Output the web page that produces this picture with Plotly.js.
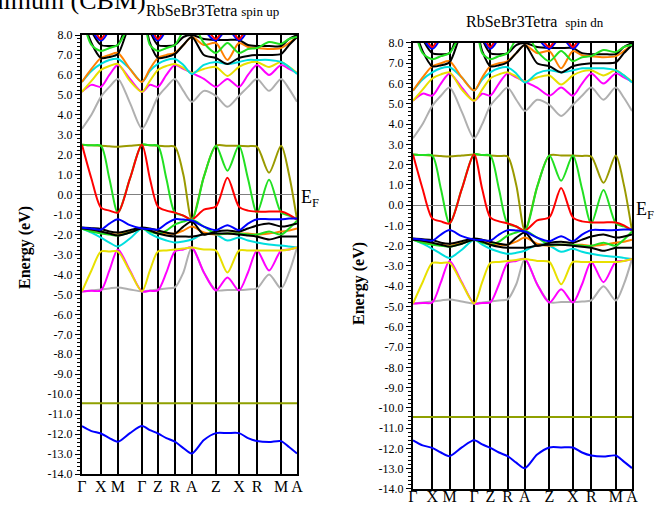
<!DOCTYPE html>
<html>
<head>
<meta charset="utf-8">
<script src="https://cdn.plot.ly/plotly-3.0.1.min.js"></script>
<style>html,body{margin:0;padding:0;background:#fff;}#chart{width:659px;height:508px;}</style>
</head>
<body>
<div id="chart"></div>
<script>
// k-path sample positions (high-symmetry points and segment midpoints)
const kpts = [0, 0.044, 0.088, 0.1275, 0.167, 0.223, 0.279, 0.316, 0.353, 0.3925, 0.432, 0.4715, 0.511, 0.567, 0.623, 0.6765, 0.730, 0.772, 0.814, 0.870, 0.926, 0.963, 1.0];
const kHS = [0, 0.088, 0.167, 0.279, 0.353, 0.432, 0.511, 0.623, 0.730, 0.814, 0.926, 1.0];
const kLabels = ['Γ','X','M','Γ','Z','R','A','Z','X','R','M','A'];
const yTicks = [8,7,6,5,4,3,2,1,0,-1,-2,-3,-4,-5,-6,-7,-8,-9,-10,-11,-12,-13,-14];

// conduction bands
const cRed    = [10, 8.6, 7.8, 8.6, 10, 10, 10, 8.6, 7.8, 8.6, 10, 10, 10, 8.6, 7.8, 8.6, 7.8, 8.6, 10, 10, 10, 10, 10];
const cBlue   = [10, 8.3, 7.72, 8.3, 10, 10, 10, 8.3, 7.72, 8.3, 10, 10, 10, 8.3, 7.72, 8.3, 7.72, 8.3, 10, 10, 10, 10, 10];
const cBlack2 = [9.5, 8.2, 7.5, 7.45, 7.5, 9, 9.5, 8.2, 7.5, 7.45, 7.5, 7.9, 8.0, 7.8, 7.75, 7.75, 7.75, 7.5, 7.45, 7.45, 7.45, 7.8, 8.0];
const cGreen  = [9, 7.5, 7.2, 7.35, 7.5, 8.5, 9, 7.5, 7.2, 7.35, 7.5, 8.2, 8.6, 7.6, 7.1, 7.6, 7.1, 7.3, 7.35, 7.65, 7.55, 7.8, 7.9];
const cBlack1 = [9, 7.6, 6.85, 6.9, 7.05, 8.5, 9, 7.6, 6.85, 6.9, 7.05, 7.5, 7.9, 7.0, 6.85, 6.55, 6.85, 6.95, 7.0, 7.0, 7.05, 7.5, 7.9];
const cOrange = [5.65, 6.3, 6.85, 7.0, 7.1, 6.3, 5.65, 6.3, 6.85, 7.0, 7.1, 7.5, 7.9, 7.5, 7.6, 6.75, 7.6, 7.4, 7.35, 7.3, 7.35, 7.6, 7.9];
const cCyan   = [5.65, 6.2, 6.55, 6.75, 6.8, 6.3, 5.65, 6.2, 6.55, 6.75, 6.8, 6.5, 6.05, 6.5, 6.65, 6.55, 6.65, 6.75, 6.75, 6.75, 6.65, 6.4, 6.05];
const cYellow = [5.15, 5.7, 6.25, 6.45, 6.55, 5.7, 5.15, 5.7, 6.25, 6.45, 6.55, 6.35, 6.1, 6.3, 6.4, 5.95, 6.4, 6.6, 6.65, 6.4, 6.65, 6.4, 6.1];
const cMagenta= [5.15, 5.5, 5.4, 6.0, 6.5, 5.8, 5.15, 5.5, 5.4, 6.0, 6.5, 6.3, 6.1, 5.8, 5.4, 5.8, 5.4, 6.0, 6.5, 6.0, 6.5, 6.3, 6.1];
const cGray   = [3.3, 4.0, 4.9, 5.4, 5.8, 4.6, 3.3, 4.0, 4.9, 5.4, 5.8, 5.2, 4.65, 5.2, 4.95, 4.4, 4.95, 5.4, 5.8, 5.2, 5.8, 5.3, 4.65];
// upper valence bands
const vOlive  = [2.5, 2.47, 2.45, 2.42, 2.4, 2.45, 2.5, 2.47, 2.45, 2.42, 2.4, 1.0, -1.25, 0.9, 2.45, 2.45, 2.45, 2.43, 2.4, 1.1, 2.45, 1.0, -1.25];
const vGreen  = [2.5, 2.47, 2.45, 0.8, -0.9, 0.8, 2.5, 2.47, 2.45, 0.8, -0.9, -1.05, -1.25, 0.9, 2.45, 1.2, 2.45, 0.8, -0.9, 0.75, -0.9, -1.05, -1.25];
const vRed    = [2.5, 0.8, -0.65, -0.8, -0.9, 0.8, 2.5, 0.8, -0.6, -0.8, -0.9, -1.05, -1.25, -0.75, -0.6, 0.85, -0.6, -0.8, -0.85, -0.85, -0.85, -1.0, -1.25];
// middle valence group
const vBlue   = [-1.66, -1.7, -1.75, -1.45, -1.23, -1.53, -1.7, -1.72, -1.75, -1.45, -1.23, -1.25, -1.3, -1.6, -1.78, -1.53, -1.78, -1.45, -1.23, -1.23, -1.23, -1.2, -1.2];
const vBlack1 = [-1.65, -1.68, -1.72, -1.85, -1.9, -1.78, -1.65, -1.7, -1.8, -1.9, -1.95, -1.6, -1.35, -2.0, -1.85, -1.8, -1.85, -1.7, -1.55, -1.45, -1.6, -1.55, -1.45];
const vBlack2 = [-1.7, -1.75, -1.85, -1.95, -2.05, -1.9, -1.7, -1.8, -1.95, -2.05, -2.1, -2.1, -2.1, -2.0, -1.95, -1.95, -2.0, -2.05, -2.1, -2.25, -2.1, -2.1, -2.1];
const vOrange = [-1.7, -1.8, -1.9, -1.95, -2.0, -1.85, -1.7, -1.8, -1.9, -1.95, -1.95, -1.8, -1.6, -1.9, -2.0, -1.95, -1.95, -1.95, -2.0, -1.95, -1.85, -1.8, -1.7];
const vGreen2 = [-1.7, -1.85, -1.95, -2.0, -2.05, -1.9, -1.7, -1.85, -1.95, -1.8, -1.5, -1.35, -1.25, -1.6, -1.95, -1.95, -1.95, -2.0, -2.0, -1.85, -2.0, -1.7, -1.3];
const vCyan   = [-1.7, -1.9, -2.15, -2.4, -2.6, -2.2, -1.7, -1.95, -2.15, -2.3, -2.4, -2.35, -2.25, -1.95, -2.0, -2.3, -2.15, -2.3, -2.4, -2.5, -2.55, -2.6, -2.65];
// lower valence group
const vYellow = [-4.85, -3.8, -2.85, -2.85, -2.85, -3.85, -4.85, -3.8, -2.85, -2.8, -2.75, -2.7, -2.65, -2.75, -2.8, -3.9, -2.8, -2.8, -2.8, -2.8, -2.8, -2.75, -2.65];
const vMagenta= [-4.85, -4.82, -4.8, -3.8, -2.75, -3.8, -4.85, -4.82, -4.8, -3.9, -2.85, -2.75, -2.65, -3.9, -4.8, -4.15, -4.8, -3.9, -2.8, -3.8, -2.8, -2.75, -2.65];
const vGray   = [-4.85, -4.8, -4.75, -4.7, -4.65, -4.75, -4.85, -4.8, -4.75, -4.7, -4.65, -3.9, -2.65, -3.9, -4.78, -4.78, -4.78, -4.75, -4.7, -4.0, -4.7, -3.9, -2.65];
// deep bands
const dOlive  = [-10.45, -10.45, -10.45, -10.45, -10.45, -10.45, -10.45, -10.45, -10.45, -10.45, -10.45, -10.45, -10.45, -10.45, -10.45, -10.45, -10.45, -10.45, -10.45, -10.45, -10.45, -10.45, -10.45];
const dBlue   = [-11.6, -11.85, -11.97, -12.2, -12.38, -11.95, -11.6, -11.8, -11.97, -12.2, -12.38, -12.7, -12.97, -12.3, -11.95, -11.95, -11.95, -12.2, -12.35, -12.4, -12.35, -12.65, -12.97];

const bands = [
  [cGray,'#b0b0b0'],[cMagenta,'#ff00ff'],[cYellow,'#e8e000'],[cCyan,'#00dede'],[cOrange,'#ff8000'],
  [cBlack1,'#000000'],[cBlack2,'#000000'],[cGreen,'#22e022'],[cBlue,'#0000ff'],[cRed,'#ff0000'],
  [vOlive,'#9a9a00'],[vGreen,'#22e022'],[vRed,'#ff0000'],
  [vCyan,'#00dede'],[vOrange,'#ff8000'],[vGreen2,'#22e022'],[vBlack2,'#000000'],[vBlack1,'#000000'],[vBlue,'#0000ff'],
  [vGray,'#b0b0b0'],[vMagenta,'#ff00ff'],[vYellow,'#e8e000'],
  [dOlive,'#8fa000'],[dBlue,'#0000ff']
];

const traces = [];
['x','x2'].forEach((xa,i)=>{
  const ya = i===0 ? 'y' : 'y2';
  bands.forEach(([vals,col])=>{
    traces.push({x:kpts, y:vals, xaxis:xa, yaxis:ya, type:'scatter', mode:'lines',
      line:{color:col, width:2, shape:'spline', smoothing:0.8}, hoverinfo:'skip', showlegend:false});
  });
});

const serif = 'Liberation Serif, Times New Roman, serif';
function xax(dom, standoff){
  return {domain:dom, range:[0,1], tickmode:'array', tickvals:kHS, ticktext:kLabels,
    showgrid:true, gridcolor:'#000', gridwidth:2, zeroline:false, showline:true, mirror:true,
    linecolor:'#000', linewidth:2, ticks:'', ticklabelstandoff:standoff,
    tickfont:{family:serif, size:16, color:'#000'}, fixedrange:true};
}
function yax(dom, anchor){
  return {domain:dom, range:[-14,8], anchor:anchor, tickmode:'array', tickvals:yTicks,
    ticktext:yTicks.map(v=>v.toFixed(1)), ticks:'outside', ticklen:5, tickwidth:1, tickcolor:'#000',
    minor:{ticks:'outside', tickmode:'linear', tick0:0, dtick:0.2, ticklen:3, tickcolor:'#000', showgrid:false},
    showgrid:false, zeroline:true, zerolinecolor:'#808080', zerolinewidth:1,
    showline:true, mirror:true, linecolor:'#000', linewidth:2,
    tickfont:{family:serif, size:12, color:'#000'}, fixedrange:true};
}

const layout = {
  width:659, height:508, margin:{l:0,r:0,t:0,b:0}, paper_bgcolor:'#fff', plot_bgcolor:'#fff',
  showlegend:false,
  xaxis: Object.assign(xax([0.1244,0.4507], -3), {anchor:'y'}),
  yaxis: yax([0.0669,0.9311],'x'),
  xaxis2: Object.assign(xax([0.6267,0.9590], -8), {anchor:'y2'}),
  yaxis2: yax([0.0374,0.9154],'x2'),
  annotations:[
    {text:'minimum (CBM)', xref:'paper', yref:'paper', x:148/659, y:1.0, xanchor:'right', yanchor:'middle',
     showarrow:false, font:{family:serif, size:26, color:'#000'}},
    {text:'RbSeBr3Tetra <span style="font-size:13px">spin up</span>', xref:'paper', yref:'paper', x:144/659, y:1-11/508,
     xanchor:'left', yanchor:'middle', showarrow:false, font:{family:serif, size:16, color:'#000'}},
    {text:'RbSeBr3Tetra  <span style="font-size:13px">spin dn</span>', xref:'paper', yref:'paper', x:464/659, y:1-21/508,
     xanchor:'left', yanchor:'middle', showarrow:false, font:{family:serif, size:16, color:'#000'}},
    {text:'<b>Energy (eV)</b>', xref:'paper', yref:'paper', x:25/659, y:1-248/508, textangle:-90,
     xanchor:'center', yanchor:'middle', showarrow:false, font:{family:serif, size:16, color:'#000'}},
    {text:'<b>Energy (eV)</b>', xref:'paper', yref:'paper', x:359/659, y:1-283/508, textangle:-90,
     xanchor:'center', yanchor:'middle', showarrow:false, font:{family:serif, size:16, color:'#000'}},
    {text:'E<sub>F</sub>', xref:'paper', yref:'paper', x:299/659, y:1-198/508, xanchor:'left', yanchor:'middle',
     showarrow:false, font:{family:serif, size:18, color:'#000'}},
    {text:'E<sub>F</sub>', xref:'paper', yref:'paper', x:634/659, y:1-211/508, xanchor:'left', yanchor:'middle',
     showarrow:false, font:{family:serif, size:18, color:'#000'}}
  ]
};

Plotly.newPlot('chart', traces, layout, {staticPlot:true, displayModeBar:false});
</script>
</body>
</html>
